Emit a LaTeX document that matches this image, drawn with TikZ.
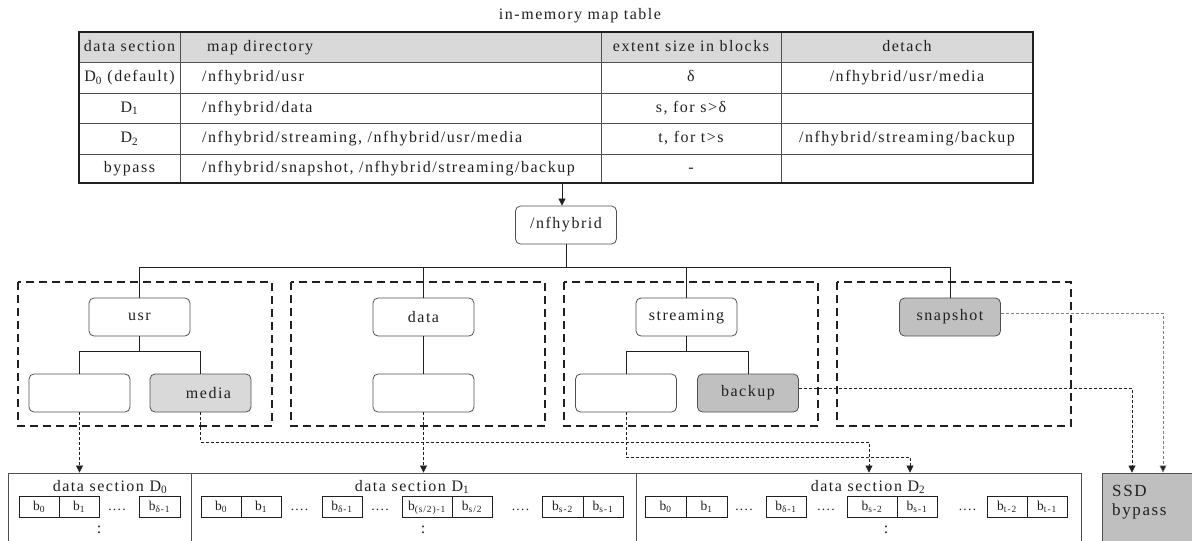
\documentclass[tikz,border=0pt]{standalone}
\usepackage{fontspec}
\setmainfont{Liberation Serif}[LetterSpace=9.5]
\usetikzlibrary{arrows.meta}
\definecolor{hdrgray}{HTML}{D9D9D9}
\definecolor{lightfill}{HTML}{D9D9D9}
\definecolor{darkfill}{HTML}{C0C0C0}
\definecolor{ssdfill}{HTML}{BFBFBF}
\definecolor{edge}{HTML}{505050}
\definecolor{ink}{HTML}{202020}

\begin{document}
\begin{tikzpicture}[x=1pt,y=-1pt,
  every node/.style={font=\fontsize{16}{19}\selectfont, inner sep=0pt, text=ink},
  txt/.style={text height=11pt, text depth=3pt},
  dirbox/.style={draw=edge, line width=0.8pt, rounded corners=5pt,
                 minimum width=101pt, minimum height=38pt},
  grp/.style={draw=ink, line width=1.6pt, dash pattern=on 8pt off 5pt},
  tree/.style={draw=ink, line width=0.7pt},
  link/.style={draw=ink, line width=0.7pt, dash pattern=on 3pt off 2pt,
               -{Triangle[length=7pt,width=7pt]}},
  faint/.style={draw=gray, line width=0.6pt, dash pattern=on 3pt off 2pt,
               -{Triangle[length=7pt,width=7pt,fill=ink]}},
  section/.style={draw=edge, line width=0.9pt, minimum height=87pt},
  cell/.style={draw=ink, line width=0.8pt, minimum height=21pt,
               font=\fontsize{13.5}{15}\selectfont, txt},
  dots/.style={font=\fontsize{13.5}{15}\selectfont, txt},
]
\useasboundingbox (0,0) rectangle (1192,541);
\clip (0,0) rectangle (1192,541);

% ---------- map table ----------
\node[txt] (title) at (580,15) {in-memory map table};
\fill[hdrgray] (79,32) rectangle (1033,62);
\draw[edge, line width=0.8pt]
  (79,62) -- (1033,62) (79,93) -- (1033,93) (79,123) -- (1033,123) (79,154) -- (1033,154)
  (180,32) -- (180,183) (601,32) -- (601,183) (781,32) -- (781,183);
\draw[ink, line width=1.2pt] (79,32) rectangle (1033,183);

\node[txt] (h1) at (129.5,47) {data section};
\node[txt, anchor=west] (h2) at (207,47) {map directory};
\node[txt] (h3) at (691,47) {extent size in blocks};
\node[txt] (h4) at (907,47) {detach};

\node[txt] (r1c1) at (129.5,77.5) {D\textsubscript{0} (default)};
\node[txt, anchor=west] (r1c2) at (202,77.5) {/nfhybrid/usr};
\node[txt] (r1c3) at (691,77.5) {δ};
\node[txt] (r1c4) at (907,77.5) {/nfhybrid/usr/media};

\node[txt] (r2c1) at (129.5,108) {D\textsubscript{1}};
\node[txt, anchor=west] (r2c2) at (202,108) {/nfhybrid/data};
\node[txt] (r2c3) at (691,108) {s, for s>δ};

\node[txt] (r3c1) at (129.5,138.5) {D\textsubscript{2}};
\node[txt, anchor=west] (r3c2) at (202,138.5) {/nfhybrid/streaming, /nfhybrid/usr/media};
\node[txt] (r3c3) at (691,138.5) {t, for t>s};
\node[txt] (r3c4) at (907,138.5) {/nfhybrid/streaming/backup};

\node[txt] (r4c1) at (129.5,168.5) {bypass};
\node[txt, anchor=west] (r4c2) at (202,168.5) {/nfhybrid/snapshot, /nfhybrid/streaming/backup};
\node[txt] (r4c3) at (691,168.5) {-};

\coordinate (tbot) at (562,183);

% ---------- directory tree ----------
\node[dirbox] (root) at (566,225) {\raisebox{4pt}{/nfhybrid}};
\draw[tree, -{Triangle[length=7pt,width=7pt]}] (tbot) -- (tbot |- root.north);

\draw[grp] (18,282) rectangle (272,426);
\draw[grp] (291,282) rectangle (545,426);
\draw[grp] (564,282) rectangle (818,426);
\draw[grp] (837,282) rectangle (1071,426);

\node[dirbox] (usr) at (139.5,317) {usr};
\node[dirbox] (data) at (423.5,317) {data};
\node[dirbox] (strm) at (686.5,317) {streaming};
\node[dirbox, fill=darkfill] (snap) at (950,317) {\raisebox{4pt}{snapshot}};

\node[dirbox] (usrx) at (79.5,393) {};
\node[dirbox, fill=lightfill] (media) at (200.5,393) {\hspace{16pt}\raisebox{-3pt}{media}};
\node[dirbox] (datax) at (423.5,393) {};
\node[dirbox] (strmx) at (626,393) {};
\node[dirbox, fill=darkfill] (backup) at (748,393) {\raisebox{-2pt}{backup}};

\coordinate (bus) at (0,267);
\coordinate (ubar) at (0,351);
\coordinate (sbar) at (0,351);
\draw[tree] (root.south) -- (root.south |- bus);
\draw[tree] (usr.north |- bus) -- (snap.north |- bus);
\draw[tree] (usr.north |- bus) -- (usr.north);
\draw[tree] (data.north |- bus) -- (data.north);
\draw[tree] (strm.north |- bus) -- (strm.north);
\draw[tree] (snap.north |- bus) -- (snap.north);

\draw[tree] (usr.south) -- (usr.south |- ubar);
\draw[tree] (usrx.north) -- (usrx.north |- ubar) -- (media.north |- ubar) -- (media.north);
\draw[tree] (data.south) -- (datax.north);
\draw[tree] (strm.south) -- (strm.south |- sbar);
\draw[tree] (strmx.north) -- (strmx.north |- sbar) -- (backup.north |- sbar) -- (backup.north);

% ---------- data sections ----------
\node[section, minimum width=183pt] (d0) at (99.5,516.5) {};
\node[section, minimum width=445pt] (d1) at (413.5,516.5) {};
\node[section, minimum width=445pt] (d2) at (858.5,516.5) {};
\node[draw=edge, line width=0.9pt, fill=ssdfill, minimum width=90pt, minimum height=87pt] (ssd) at (1147,516.5) {};
\node[anchor=north west, align=left, font=\fontsize{17}{19}\selectfont] (ssdlbl) at (1112,485) {SSD\\bypass};

\node[txt] (d0t) at (110,487) {data section D\textsubscript{0}};
\node[txt] (d1t) at (412,487) {data section D\textsubscript{1}};
\node[txt] (d2t) at (868,487) {data section D\textsubscript{2}};

% D0 blocks
\node[cell, minimum width=40pt] (a0) at (39,506.5) {b\textsubscript{0}};
\node[cell, minimum width=40pt] (a1) at (79,506.5) {b\textsubscript{1}};
\node[dots] (ad1) at (117,506) {....};
\node[cell, minimum width=41pt] (a2) at (159.5,506.5) {b\textsubscript{δ-1}};
\node[txt] (ac) at (99,529) {:};

% D1 blocks
\node[cell, minimum width=40pt] (b0) at (221,506.5) {b\textsubscript{0}};
\node[cell, minimum width=40pt] (b1) at (261,506.5) {b\textsubscript{1}};
\node[dots] (bd1) at (299.5,506) {....};
\node[cell, minimum width=40pt] (b2) at (342,506.5) {b\textsubscript{δ-1}};
\node[dots] (bd2) at (380,506) {....};
\node[cell, minimum width=50pt] (b3) at (427,506.5) {b\textsubscript{(s/2)-1}};
\node[cell, minimum width=40pt] (b4) at (472,506.5) {b\textsubscript{s/2}};
\node[dots] (bd3) at (520.5,506) {....};
\node[cell, minimum width=41pt] (b5) at (562.5,506.5) {b\textsubscript{s-2}};
\node[cell, minimum width=40pt] (b6) at (603,506.5) {b\textsubscript{s-1}};
\node[txt] (bc) at (423,529) {:};

% D2 blocks
\node[cell, minimum width=41pt] (c0) at (665.5,506.5) {b\textsubscript{0}};
\node[cell, minimum width=41pt] (c1) at (706.5,506.5) {b\textsubscript{1}};
\node[dots] (cd1) at (744,506) {....};
\node[cell, minimum width=40pt] (c2) at (786,506.5) {b\textsubscript{δ-1}};
\node[dots] (cd2) at (826,506) {....};
\node[cell, minimum width=50pt] (c3) at (872,506.5) {b\textsubscript{s-2}};
\node[cell, minimum width=40pt] (c4) at (917,506.5) {b\textsubscript{s-1}};
\node[dots] (cd3) at (967.5,506) {....};
\node[cell, minimum width=40pt] (c5) at (1007,506.5) {b\textsubscript{t-2}};
\node[cell, minimum width=40pt] (c6) at (1047,506.5) {b\textsubscript{t-1}};
\node[txt] (cc) at (886,529) {:};

% ---------- mapping links ----------
\coordinate (mturn) at (869,442);
\coordinate (sturn) at (910,457);
\coordinate (bturn) at (1132,388);
\coordinate (pturn) at (1163,313);

\draw[link] (usrx.south) -- (usrx.south |- d0.north);
\draw[link] (datax.south) -- (datax.south |- d1.north);
\draw[link] (media.south) |- (mturn) -- (mturn |- d2.north);
\draw[link] (strmx.south) |- (sturn) -- (sturn |- d2.north);
\draw[link] (backup.east |- bturn) -- (bturn) -- (bturn |- ssd.north);
\draw[faint] (snap.east |- pturn) -- (pturn) -- (pturn |- ssd.north);
\end{tikzpicture}
\end{document}
